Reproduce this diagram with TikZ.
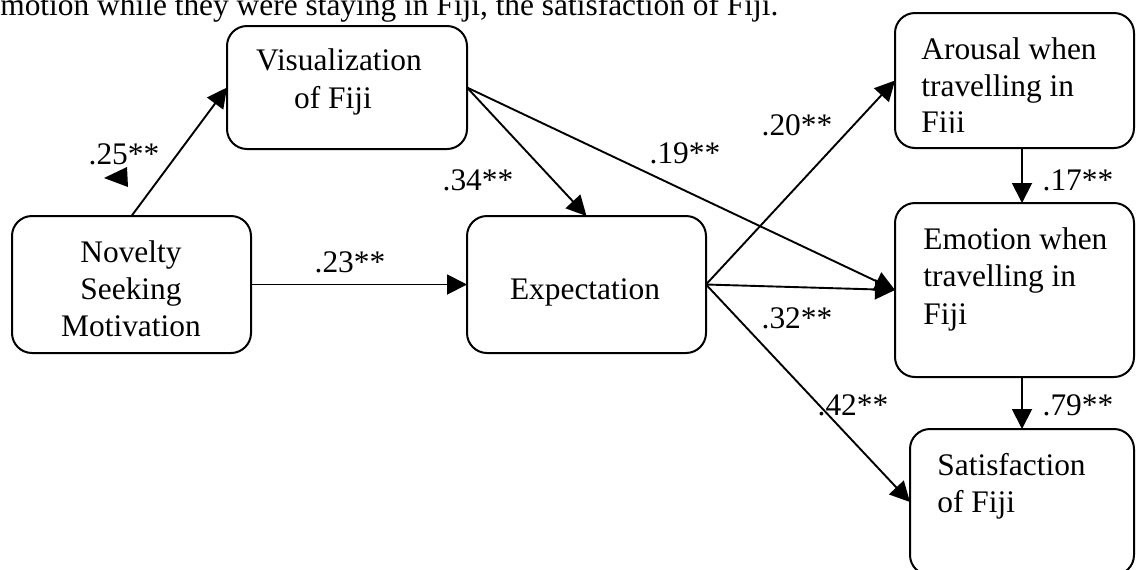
\documentclass[tikz,border=0pt]{standalone}
\usepackage{fontspec}
\setmainfont{Liberation Serif}
\usetikzlibrary{arrows.meta}
\tikzset{
  box/.style={draw, rounded corners=10pt, line width=1pt, inner sep=0pt, outer sep=0pt},
  txt/.style={inner sep=0pt, font=\fontsize{15.7}{18.5}\selectfont},
  lbl/.style={inner sep=0pt, font=\fontsize{15.7}{18.5}\selectfont},
  arr/.style={line width=0.95pt, -{Triangle[length=10pt,width=10pt]}}
}
\begin{document}
\begin{tikzpicture}[x=0.5pt,y=-0.5pt]
\useasboundingbox (0,0) rectangle (1136,569);
\clip (0,0) rectangle (1136,569);
\fill[white] (0,0) rectangle (1136,569);
% top text (cut)
\node[txt, anchor=base west] (toptext) at (-14,15) {emotion while they were staying in Fiji, the satisfaction of Fiji.};
% boxes
\node[box, minimum width=119.5pt, minimum height=68.5pt] (nov) at (131.5,284.5) {};
\node[box, minimum width=120pt, minimum height=61.5pt] (vis) at (347,87.5) {};
\node[box, minimum width=119.5pt, minimum height=68.5pt] (exp) at (586.5,284.5) {};
\node[box, minimum width=119.5pt, minimum height=67.5pt] (aro) at (1014.5,80.5) {};
\node[box, minimum width=119.5pt, minimum height=87pt] (emo) at (1014.5,290) {};
\node[box, minimum width=112pt, minimum height=73pt] (sat) at (1022,502) {};
% box texts
\node[txt, anchor=base] (nov1) at (131,262) {Novelty};
\node[txt, anchor=base] (nov2) at (131,299) {Seeking};
\node[txt, anchor=base] (nov3) at (131,336) {Motivation};
\node[txt, anchor=base] (vis1) at (339,70) {Visualization};
\node[txt, anchor=base] (vis2) at (333,108) {of Fiji};
\node[txt, anchor=base] (exp1) at (585,299) {Expectation};
\node[txt, anchor=base west] (aro1) at (921,59) {Arousal when};
\node[txt, anchor=base west] (aro2) at (921,96.5) {travelling in};
\begin{scope}
\clip (900,100) rectangle (1100,132.5);
\node[txt, anchor=base west] (aro3) at (921,132) {Fiji};
\end{scope}
\node[txt, anchor=base west] (emo1) at (923,249) {Emotion when};
\node[txt, anchor=base west] (emo2) at (923,286) {travelling in};
\node[txt, anchor=base west] (emo3) at (923,324) {Fiji};
\node[txt, anchor=base west] (sat1) at (937,475) {Satisfaction};
\node[txt, anchor=base west] (sat2) at (937,512) {of Fiji};
% connectors
\draw[arr] (nov.north) -- (vis.west);
\draw[arr] (nov.east) -- (exp.west);
\draw[arr] (vis.east) -- (exp.north);
\draw[arr] (vis.east) -- (emo.west);
\draw[arr] (exp.east) -- (aro.west);
\draw[arr] (exp.east) -- (emo.west);
\draw[arr] (exp.east) -- (sat.west);
\draw[arr] (aro.south -| sat.north) -- (emo.north -| sat.north);
\draw[arr] (emo.south -| sat.north) -- (sat.north);
% stray arrowhead
\fill (104,178) -- (127,167) -- (128,187) -- cycle;
% labels
\node[lbl] (l25) at (124,154) {.25**};
\node[lbl] (l34) at (478,180) {.34**};
\node[lbl] (l19) at (685,153) {.19**};
\node[lbl] (l20) at (797,125) {.20**};
\node[lbl] (l23) at (350,262) {.23**};
\node[lbl] (l32) at (797,318) {.32**};
\node[lbl] (l42) at (853,405) {.42**};
\node[lbl] (l17) at (1078,180) {.17**};
\node[lbl] (l79) at (1078,405) {.79**};
\end{tikzpicture}
\end{document}
